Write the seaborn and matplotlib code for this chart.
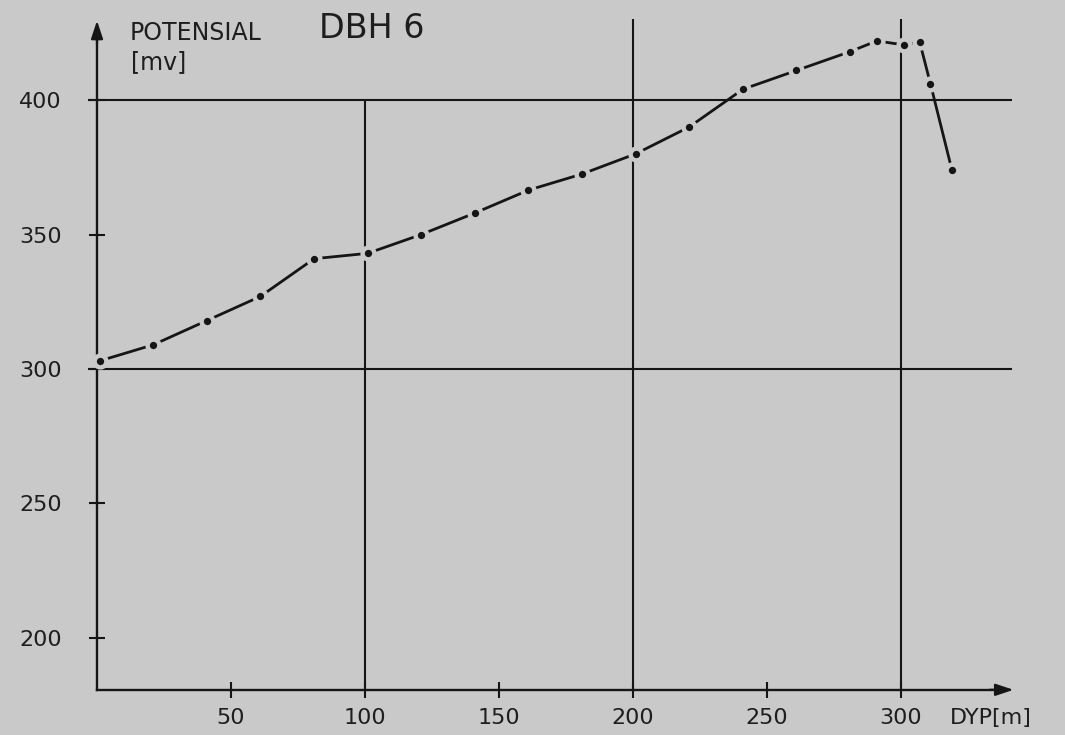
import matplotlib
matplotlib.use("Agg")
import matplotlib.pyplot as plt
import seaborn as sns
import pandas as pd

# ---- data ----
depth = [1, 21, 41, 61, 81, 101, 121, 141, 161, 181, 201, 221, 241, 261, 281, 291, 301, 307, 311, 319]
potential = [303, 309, 318, 327, 341, 343, 350, 358, 366.5, 372.5, 380, 390, 404, 411, 418, 422,
             420.5, 421.5, 406, 374]
x_ticks = [50, 100, 150, 200, 250, 300]
x_tick_labels = ["50", "100", "150", "200", "250", "300"]
y_ticks = [200, 250, 300, 350, 400]
y_tick_labels = ["200", "250", "300", "350", "400"]
x_grid = [100, 200, 300]
y_grid = [300, 400]

BG = "#c9c9c9"
INK = "#151515"

sns.set_theme(style="white")
plt.rcParams["font.family"] = ["DejaVu Sans"]

df = pd.DataFrame({"DYP": depth, "POTENSIAL": potential})

fig = plt.figure(figsize=(10.65, 7.35), dpi=100, facecolor=BG)
ax = fig.add_axes([0, 0, 1, 1], facecolor=BG)
ax.set_xlim(-36.2, 361.2)
ax.set_ylim(163.9, 437.2)

y_bottom = 180.7
# spines as the drawn axes
for s in ["top", "right"]:
    ax.spines[s].set_visible(False)
ax.spines["left"].set_position(("data", 0))
ax.spines["bottom"].set_position(("data", y_bottom))
ax.spines["left"].set_bounds(y_bottom, 424)
ax.spines["bottom"].set_bounds(0, 336)
for s in ["left", "bottom"]:
    ax.spines[s].set_color(INK)
    ax.spines[s].set_linewidth(1.7)

# arrow heads
ax.annotate("", xy=(0, 429.5), xytext=(0, 421), zorder=5,
            arrowprops=dict(arrowstyle="-|>,head_length=0.9,head_width=0.3", color=INK, lw=1.6,
                            shrinkA=0, shrinkB=0))
ax.annotate("", xy=(342, y_bottom), xytext=(333, y_bottom), zorder=5,
            arrowprops=dict(arrowstyle="-|>,head_length=0.9,head_width=0.3", color=INK, lw=1.6,
                            shrinkA=0, shrinkB=0))

# grid lines
ax.hlines(y_grid, -3.4, 341.5, colors=INK, lw=1.5, zorder=2)
ax.vlines(x_grid[0], y_bottom, 400, colors=INK, lw=1.5, zorder=2)
ax.vlines(x_grid[1:], y_bottom, 430, colors=INK, lw=1.5, zorder=2)

# ticks
ax.set_xticks(x_ticks, x_tick_labels)
ax.set_yticks(y_ticks, y_tick_labels)
ax.tick_params(axis="both", direction="inout", length=11.5, width=1.5, colors=INK,
               labelsize=16, labelcolor="#1e1e1e", bottom=True, left=True)
ax.tick_params(axis="y", pad=19.5)
ax.tick_params(axis="x", pad=7)
ax.grid(False)

# data line with gaps around the dots
sns.lineplot(data=df, x="DYP", y="POTENSIAL", ax=ax, color=INK, lw=2.0,
             marker="o", markersize=8.5, markerfacecolor=INK,
             markeredgecolor=BG, markeredgewidth=3.2, zorder=4)
ax.set_xlabel("")
ax.set_ylabel("")

# labels
ax.text(12.3, 424.9, "POTENSIAL", fontsize=17, color="#1e1e1e", ha="left", va="center")
ax.text(12.6, 414.2, "[mv]", fontsize=17, color="#1e1e1e", ha="left", va="center")
ax.text(83.0, 426.5, "DBH 6", fontsize=24, color="#1e1e1e", ha="left", va="center")
ax.text(318.3, 170.3, "DYP[m]", fontsize=16, color="#1e1e1e", ha="left", va="center")

fig.savefig("out.png", dpi=100, facecolor=BG)
